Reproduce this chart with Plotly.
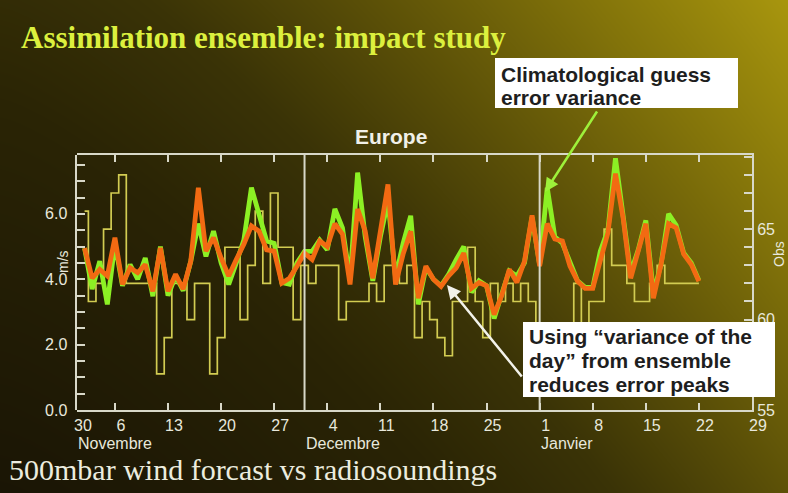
import numpy as np
import plotly.graph_objects as go

W, H = 788, 493

# ---------------- data ----------------
# day index counted from 1 November (0 = 1 Nov, 30 = 1 Dec, 61 = 1 Jan)
days = list(range(1, 83))

var_of_day = [4.95, 4.03, 4.30, 4.10, 5.27, 3.84, 4.35, 4.20, 4.45, 3.63,
              4.96, 3.63, 4.15, 3.70, 4.55, 6.80, 4.86, 5.27, 4.65, 4.10,
              4.60, 5.07, 5.63, 5.47, 4.90, 4.86, 3.88, 4.03, 4.40, 4.80,
              4.60, 5.17, 5.00, 5.70, 5.38, 3.84, 6.15, 5.47, 4.03, 5.40,
              6.90, 3.84, 4.77, 5.47, 3.42, 4.40, 4.00, 3.78, 4.10, 4.35,
              4.80, 3.72, 3.90, 3.80, 2.92, 3.50, 4.30, 3.90, 4.55, 5.95,
              4.40, 5.70, 5.23, 5.17, 4.40, 3.94, 3.72, 3.72, 4.55, 5.42,
              7.23, 5.88, 4.03, 4.86, 5.70, 3.42, 4.45, 5.70, 5.57, 4.77,
              4.45, 3.94]

climatological = [4.95, 3.70, 4.55, 3.23, 5.10, 3.80, 4.45, 4.00, 4.65, 3.48,
                  5.00, 3.50, 4.10, 3.65, 4.55, 5.70, 4.70, 5.47, 4.50, 3.84,
                  4.50, 5.20, 6.80, 6.00, 5.17, 5.10, 3.90, 3.85, 4.50, 4.85,
                  4.85, 5.20, 4.90, 6.15, 5.57, 4.00, 7.26, 5.30, 3.95, 5.30,
                  6.40, 4.05, 5.10, 5.94, 3.23, 4.35, 4.00, 3.80, 4.15, 4.60,
                  5.00, 3.60, 3.95, 3.80, 2.80, 3.55, 4.25, 4.10, 4.50, 5.90,
                  4.45, 6.80, 5.30, 5.10, 4.50, 3.95, 3.75, 3.75, 4.86, 5.50,
                  7.70, 5.85, 4.20, 4.90, 5.80, 3.60, 4.45, 6.00, 5.65, 4.80,
                  4.50, 3.96]

obs_count = [66, 61, 62, 65, 67, 68, 62, 62, 62, 62,
             57, 59, 62, 62, 60, 62, 62, 57, 59, 64,
             64, 60, 63, 66, 62, 67, 64, 64, 60, 63,
             62, 63, 63, 63, 60, 61, 61, 61, 62, 61,
             63, 63, 62, 63, 59, 61, 60, 59, 58, 61,
             61, 64, 61, 59, 62, 61, 62, 61, 62, 61,
             58, 58, 58, 58, 58, 62, 58, 61, 61, 65,
             63, 63, 62, 61, 61, 62, 63, 62, 62, 62,
             62, 62]

tick_vals = [0, 5, 12, 19, 26, 33, 40, 47, 54, 61, 68, 75, 82, 89]
tick_text = ["30", "6", "13", "20", "27", "4", "11", "18", "25", "1", "8", "15", "22", "29"]
months = ["Novembre", "Decembre", "Janvier"]
month_start = [0, 30, 61]
month_lines = [30, 61]


def px(x):
    return x / W


def py(y):
    return 1 - y / H


XDOM = [px(77), px(752)]
YDOM = [py(410), py(155)]

fig = go.Figure()

# ---------------- background gradient ----------------
gx = np.linspace(0, 1, 80)
gy = np.linspace(0, 1, 50)
GX, GY = np.meshgrid(gx, gy)
GZ = 0.62 * GX ** 1.3 + 0.38 * GY
fig.add_trace(go.Heatmap(
    x=gx, y=gy, z=GZ, xaxis="x", yaxis="y", zsmooth="best", showscale=False,
    hoverinfo="skip", zmin=0, zmax=1,
    colorscale=[[0, "#1a1505"], [0.3, "#2a2405"], [0.45, "#3a3306"],
                [0.6, "#594e07"], [0.8, "#82730a"], [1, "#a8960e"]]))

# ---------------- data traces ----------------
# observation count (right axis) in subplot x2/y2, drawn first
fig.add_trace(go.Scatter(x=days, y=obs_count, xaxis="x2", yaxis="y2", mode="lines",
                         line=dict(color="#d2cc52", width=1.7, shape="hvh"),
                         hoverinfo="skip", showlegend=False))
# error curves (left axis, m/s) in subplot x3/y3 on top
fig.add_trace(go.Scatter(x=days, y=climatological, xaxis="x3", yaxis="y3", mode="lines",
                         line=dict(color="#8cf024", width=4.8),
                         showlegend=False))
fig.add_trace(go.Scatter(x=days, y=var_of_day, xaxis="x3", yaxis="y3", mode="lines",
                         line=dict(color="#f26a12", width=4.8),
                         showlegend=False))

axcol = "#d8d8c8"
tfont = dict(family="Liberation Sans, Arial", size=16, color="#e8e8dc")

fig.update_layout(
    width=W, height=H, autosize=False,
    margin=dict(l=0, r=0, t=0, b=0),
    paper_bgcolor="#1a1505", plot_bgcolor="rgba(0,0,0,0)",
    showlegend=False,
    xaxis=dict(domain=[0, 1], range=[0, 1], visible=False, fixedrange=True),
    yaxis=dict(domain=[0, 1], range=[0, 1], visible=False, fixedrange=True),
    xaxis2=dict(domain=XDOM, anchor="y2", range=[0, 89],
                tickvals=tick_vals, ticktext=tick_text, ticks="inside", ticklen=7,
                tickwidth=2, tickcolor=axcol, showline=True, linecolor=axcol,
                linewidth=2, mirror="ticks", showgrid=False, zeroline=False,
                tickfont=tfont, ticklabelshift=6, automargin=False),
    yaxis2=dict(domain=YDOM, anchor="x2", side="right",
                range=[55, 69.1], tickmode="linear", tick0=55, dtick=5, ticks="inside",
                ticklen=8, tickwidth=2, tickcolor=axcol, showline=True,
                linecolor=axcol, linewidth=2, showgrid=False, zeroline=False,
                tickfont=tfont, automargin=False,
                minor=dict(dtick=1, tick0=55, ticks="inside", ticklen=8,
                           tickwidth=2, tickcolor=axcol, showgrid=False)),
    xaxis3=dict(domain=XDOM, anchor="y3", range=[0, 89], visible=False,
                showgrid=False, zeroline=False),
    yaxis3=dict(domain=YDOM, anchor="x3", side="left", range=[0, 7.8],
                tickmode="linear", tick0=0, dtick=2, tickformat=".1f", ticksuffix=" ",
                ticks="inside", ticklen=8, tickwidth=2, tickcolor=axcol,
                showline=True, linecolor=axcol, linewidth=2, showgrid=False,
                zeroline=False, tickfont=tfont, automargin=False,
                minor=dict(dtick=0.5, tick0=0, ticks="inside", ticklen=8,
                           tickwidth=2, tickcolor=axcol, showgrid=False)),
)

shapes = []
for m in month_lines:
    shapes.append(dict(type="line", xref="x2", yref="y2 domain", x0=m, x1=m, y0=0, y1=1,
                       line=dict(color=axcol, width=2), layer="above"))
# annotation boxes
shapes.append(dict(type="rect", xref="paper", yref="paper", x0=px(495), x1=px(738),
                   y0=py(108), y1=py(58), fillcolor="white", line=dict(width=0), layer="above"))
shapes.append(dict(type="rect", xref="paper", yref="paper", x0=px(523), x1=px(775),
                   y0=py(397), y1=py(322), fillcolor="white", line=dict(width=0), layer="above"))
fig.update_layout(shapes=shapes)

ann = []
# title
ann.append(dict(text="<b>Assimilation ensemble: impact study</b>", xref="paper", yref="paper",
                x=px(19), y=py(37), xanchor="left", yanchor="middle", showarrow=False,
                font=dict(family="Liberation Serif", size=31, color="#dcf03e")))
ann.append(dict(text="500mbar wind forcast vs radiosoundings", xref="paper", yref="paper",
                x=px(7), y=py(469), xanchor="left", yanchor="middle", showarrow=False,
                font=dict(family="Liberation Serif", size=30, color="#ececdf")))
ann.append(dict(text="<b>Europe</b>", xref="paper", yref="paper", x=px(391), y=py(136),
                xanchor="center", yanchor="middle", showarrow=False,
                font=dict(family="Liberation Sans, Arial", size=21, color="#f0f0e8")))
ann.append(dict(text="m/s", xref="paper", yref="paper", x=px(63), y=py(262), textangle=-90,
                xanchor="center", yanchor="middle", showarrow=False,
                font=dict(family="Liberation Sans, Arial", size=14, color="#e8e8dc")))
ann.append(dict(text="Obs", xref="paper", yref="paper", x=px(779), y=py(254), textangle=-90,
                xanchor="center", yanchor="middle", showarrow=False,
                font=dict(family="Liberation Sans, Arial", size=14, color="#e8e8dc")))
for name, start in zip(months, month_start):
    ann.append(dict(text=name, xref="x2", yref="paper", x=start, y=py(443),
                    xanchor="left", yanchor="middle", showarrow=False, xshift=-1,
                    font=tfont))

box_font = dict(family="Liberation Sans, Arial", size=21, color="#1e1e1e")
for txt, yc in [("Climatological guess", 74), ("error variance", 97)]:
    ann.append(dict(text="<b>%s</b>" % txt, xref="paper", yref="paper", x=px(499), y=py(yc),
                    xanchor="left", yanchor="middle", showarrow=False, font=box_font))
for txt, yc in [("Using \u201cvariance of the", 336), ("day\u201d from ensemble", 360),
                ("reduces error peaks", 384)]:
    ann.append(dict(text="<b>%s</b>" % txt, xref="paper", yref="paper", x=px(527), y=py(yc),
                    xanchor="left", yanchor="middle", showarrow=False, font=box_font))
# arrows
ann.append(dict(text="", xref="paper", yref="paper", x=px(545), y=py(192),
                ax=598 - 545, ay=110 - 192, showarrow=True, arrowhead=2, arrowsize=1.1,
                arrowwidth=2.5, arrowcolor="#9ef03a", standoff=0))
ann.append(dict(text="", xref="paper", yref="paper", x=px(447), y=py(285),
                ax=523 - 447, ay=378 - 285, showarrow=True, arrowhead=2, arrowsize=1.1,
                arrowwidth=2.5, arrowcolor="#f2f2ea", standoff=0))
fig.update_layout(annotations=ann)

fig.write_html(
    "out.html",
    config={"displayModeBar": False},
    post_script=("document.documentElement.style.margin='0px';"
                 "document.body.style.margin='0px';"
                 "document.body.style.padding='0px';"
                 "document.documentElement.style.overflow='hidden';"
                 "document.body.style.overflow='hidden';"),
)
